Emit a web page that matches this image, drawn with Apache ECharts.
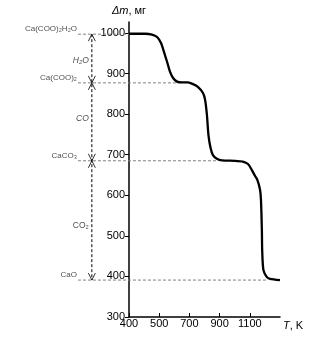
<!DOCTYPE html>
<html>
<head>
<meta charset="utf-8">
<script src="https://cdn.jsdelivr.net/npm/echarts@6/dist/echarts.min.js"></script>
<style>
html,body{margin:0;padding:0;background:#fff;}
#chart{width:323px;height:337px;}
</style>
</head>
<body>
<div id="chart"></div>
<script>
// x positions are axis slots (tick labels are unevenly spaced in the original)
const xTickLabels = ['400', '500', '700', '900', '1100'];
const xTickSlots = [0, 1, 2, 3, 4];
const yTicks = [300, 400, 500, 600, 700, 800, 900, 1000];

// TG curve: [slot, mass]
const curveX = [0, 0.53, 0.76, 0.93, 1.06, 1.16, 1.26, 1.36, 1.46, 1.59, 1.75, 1.95, 2.12, 2.28, 2.45, 2.52, 2.58, 2.63, 2.70, 2.78, 2.91, 3.08, 3.51, 3.77, 3.94, 4.07, 4.17, 4.25, 4.34, 4.37, 4.40, 4.41, 4.45, 4.56, 4.67, 5.0];
const curveY = [998, 998, 996, 990, 975, 953, 929, 904, 889, 880, 878, 878, 874, 867, 852, 835, 798, 749, 717, 699, 690, 686, 685, 683, 677, 662, 648, 638, 613, 588, 514, 465, 416, 399, 394, 391];

// compound levels
const levelNames = ['Ca(COO)₂H₂O', 'Ca(COO)₂', 'CaCO₃', 'CaO'];
const levelValues = [997, 877, 685, 391];
const levelEnds = [0, 1.59, 2.91, 4.6];
const levelStart = -1.69;

// released gases
const gasNames = ['H₂O', 'CO', 'CO₂'];
const gasItalic = [true, true, false];
const gasY = [933, 790, 524];
const arrowX = -1.23;

const curveData = curveX.map((x, i) => [x, curveY[i]]);

// overlay grid (index 1) shares scales with the main grid but spans the left margin
const ov = { xAxisIndex: 1, yAxisIndex: 1 };
const series = [];
series.push({
  type: 'line', data: curveData, smooth: 0.25, symbol: 'none', clip: false,
  lineStyle: { color: '#000', width: 2.3 }, z: 5
});
levelValues.forEach((v, i) => {
  series.push(Object.assign({
    type: 'line', data: [[levelStart, v], [levelEnds[i], v]], symbol: 'none',
    lineStyle: { color: '#808080', width: 1, type: [3, 2] }, z: 2, silent: true
  }, ov));
});
series.push(Object.assign({
  type: 'line', data: [[arrowX, levelValues[0]], [arrowX, levelValues[3]]], symbol: 'none',
  lineStyle: { color: '#000', width: 1, type: [3, 2] }, z: 3
}, ov));
const upHeads = [], downHeads = [];
for (let i = 0; i < 3; i++) {
  upHeads.push([arrowX, levelValues[i]]);
  downHeads.push([arrowX, levelValues[i + 1]]);
}
series.push(Object.assign({
  type: 'scatter', data: upHeads, symbol: 'path://M0,10 L5,0 L10,10',
  symbolSize: [7, 7], symbolOffset: [0, 3.5], symbolKeepAspect: false,
  itemStyle: { color: 'transparent', borderColor: '#000', borderWidth: 1 }, z: 4
}, ov));
series.push(Object.assign({
  type: 'scatter', data: downHeads, symbol: 'path://M0,0 L5,10 L10,0',
  symbolSize: [7, 7], symbolOffset: [0, -3.5], symbolKeepAspect: false,
  itemStyle: { color: 'transparent', borderColor: '#000', borderWidth: 1 }, z: 4
}, ov));
series.push(Object.assign({
  type: 'scatter', symbolSize: 0,
  data: levelValues.map((v, i) => ({ value: [levelStart, v], name: levelNames[i] })),
  label: {
    show: true, position: 'left', distance: 1, offset: [0, -5],
    formatter: p => p.name, fontSize: 8, color: '#222', fontFamily: 'Liberation Sans'
  }
}, ov));
series.push(Object.assign({
  type: 'scatter', symbolSize: 0,
  data: gasY.map((v, i) => ({
    value: [arrowX, v], name: gasNames[i],
    label: { fontStyle: gasItalic[i] ? 'italic' : 'normal' }
  })),
  label: {
    show: true, position: 'left', distance: 3,
    formatter: p => p.name, fontSize: 8.5, color: '#222', fontFamily: 'Liberation Sans'
  }
}, ov));

const gridLeft = 129, gridRight = 43, ovLeft = 10;
const xMax = 5;
const unitPx = (323 - gridRight - gridLeft) / xMax;
const ovMin = -(gridLeft - ovLeft) / unitPx;

const chart = echarts.init(document.getElementById('chart'), null, { renderer: 'canvas' });
chart.setOption({
  animation: false,
  backgroundColor: '#fff',
  grid: [
    { left: gridLeft, right: gridRight, top: 22, bottom: 20 },
    { left: ovLeft, right: gridRight, top: 22, bottom: 20 }
  ],
  xAxis: [{
    type: 'value', min: 0, max: xMax, gridIndex: 0,
    name: '{i|T}, K', nameLocation: 'end', nameGap: 3,
    nameTextStyle: {
      fontSize: 11, color: '#000', fontFamily: 'Liberation Sans', verticalAlign: 'top', padding: [3, 0, 0, 0],
      rich: { i: { fontStyle: 'italic', fontSize: 11, fontFamily: 'Liberation Sans', color: '#000' } }
    },
    splitLine: { show: false },
    axisLine: { lineStyle: { color: '#000', width: 1.5 } },
    axisTick: { inside: true, length: 4, customValues: xTickSlots, lineStyle: { color: '#000', width: 1 } },
    axisLabel: {
      customValues: xTickSlots, margin: 1, fontSize: 11, color: '#000', fontFamily: 'Liberation Sans',
      formatter: v => xTickLabels[Math.round(v)] ?? ''
    }
  }, {
    type: 'value', min: ovMin, max: xMax, gridIndex: 1, show: false
  }],
  yAxis: [{
    type: 'value', min: 300, max: 1027, gridIndex: 0,
    name: '{i|Δm}, мг', nameLocation: 'end', nameGap: 6,
    nameTextStyle: {
      fontSize: 11, color: '#000', fontFamily: 'Liberation Sans',
      rich: { i: { fontStyle: 'italic', fontSize: 11, fontFamily: 'Liberation Sans', color: '#000' } }
    },
    splitLine: { show: false },
    axisLine: { lineStyle: { color: '#000', width: 1.5 } },
    axisTick: { length: 4, customValues: yTicks, lineStyle: { color: '#000', width: 1 } },
    axisLabel: {
      customValues: yTicks, margin: 4, fontSize: 11, color: '#000', fontFamily: 'Liberation Sans',
      formatter: v => String(v)
    }
  }, {
    type: 'value', min: 300, max: 1027, gridIndex: 1, show: false
  }],
  series: series
});
</script>
</body>
</html>
